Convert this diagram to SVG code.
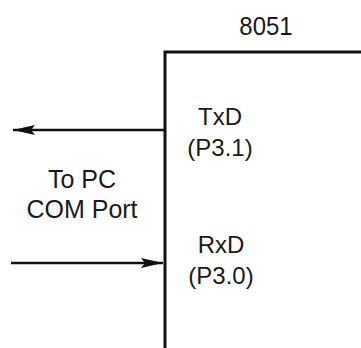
<svg xmlns="http://www.w3.org/2000/svg" width="361" height="348" viewBox="0 0 361 348">
<style>
text{font-family:"Liberation Sans",Arial,sans-serif;font-size:24px;fill:#1a1a1a;text-anchor:middle}
.edge{stroke:#111;stroke-width:2.6;fill:none}
</style>
<defs>
<marker id="ah" viewBox="0 0 22 10" refX="22" refY="5" markerWidth="22" markerHeight="10" markerUnits="userSpaceOnUse" orient="auto">
<path d="M0,0 L22,5 L0,10 L4,5 Z" fill="#111"/>
</marker>
</defs>
<rect width="361" height="348" fill="#fff"/>
<g id="chip8051">
<path d="M165,350 V52 H363" fill="none" stroke="#111" stroke-width="3"/>
<text x="266" y="35" transform="translate(0,35) scale(1,1.1) translate(0,-35)">8051</text>
</g>
<g id="txd">
<text x="220" y="125">TxD</text>
<text x="220" y="156">(P3.1)</text>
</g>
<g id="rxd">
<text x="221" y="253">RxD</text>
<text x="221" y="284">(P3.0)</text>
</g>
<g id="pc">
<text x="82" y="188" style="font-size:25px">To PC</text>
<text x="82" y="218" style="font-size:25px">COM Port</text>
</g>
<g id="connectors">
<line class="edge" x1="164" y1="130" x2="13" y2="130" marker-end="url(#ah)"/>
<line class="edge" x1="11" y1="263" x2="163" y2="263" marker-end="url(#ah)"/>
</g>
</svg>
